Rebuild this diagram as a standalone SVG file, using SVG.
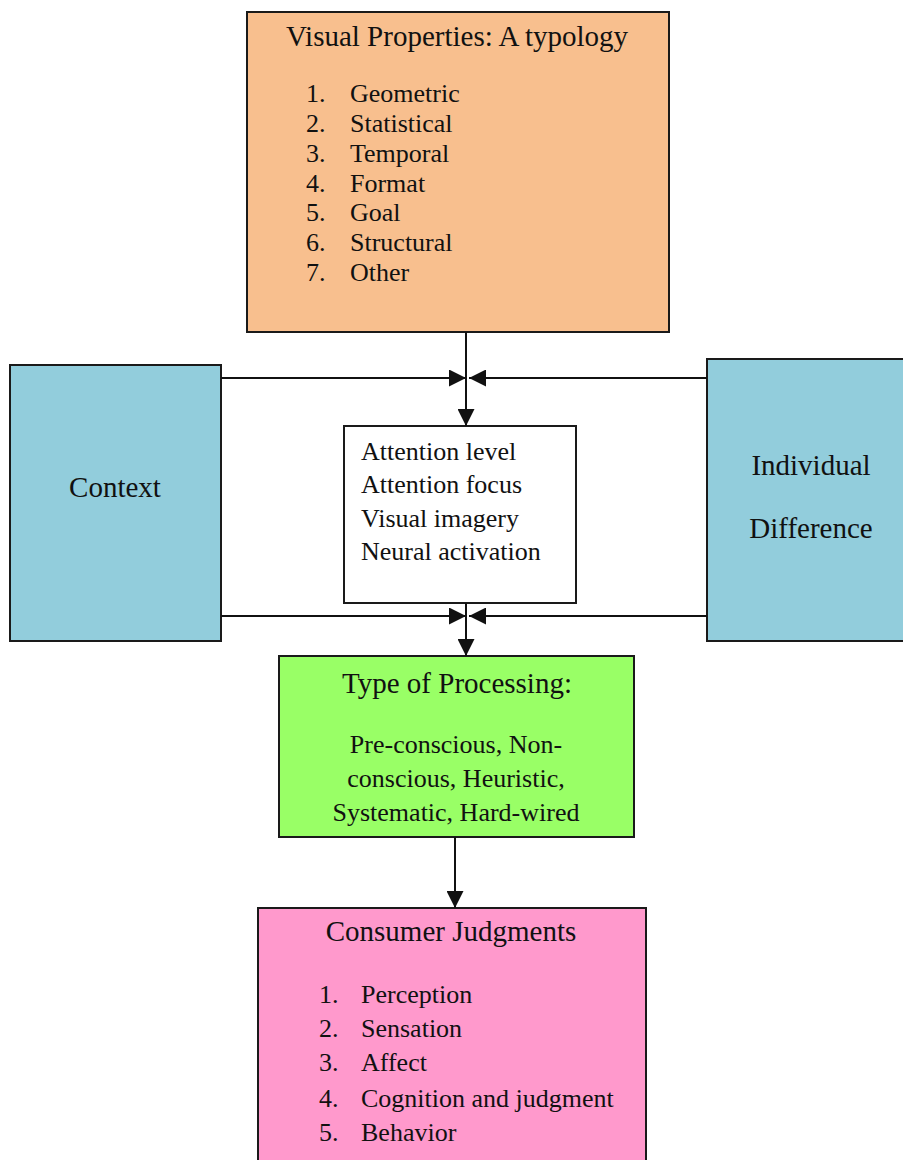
<svg xmlns="http://www.w3.org/2000/svg" width="903" height="1160" viewBox="0 0 903 1160">
  <style>
    .box { stroke: #1a1a1a; stroke-width: 2; }
    .t { font-family: "Liberation Serif", "Times New Roman", "DejaVu Serif", serif; font-size: 26px; fill: #111; }
    .h { font-size: 29px; }
    .c { text-anchor: middle; }
    .line { stroke: #111; stroke-width: 2; fill: none; }
  </style>
  <defs>
    <marker id="head" viewBox="0 0 10 10" refX="10" refY="5" markerWidth="17" markerHeight="17" orient="auto" markerUnits="userSpaceOnUse">
      <path d="M0,0 L10,5 L0,10 Z" fill="#111"/>
    </marker>
  </defs>
  <rect width="903" height="1160" fill="#fff"/>

  <g id="visual-properties">
    <rect class="box" x="247" y="12" width="422" height="320" fill="#F8BF8E"/>
    <text class="t h c" x="457" y="46">Visual Properties: A typology</text>
    <text class="t" x="306" y="102">1.</text><text class="t" x="350" y="102">Geometric</text>
    <text class="t" x="306" y="132">2.</text><text class="t" x="350" y="132">Statistical</text>
    <text class="t" x="306" y="162">3.</text><text class="t" x="350" y="162">Temporal</text>
    <text class="t" x="306" y="192">4.</text><text class="t" x="350" y="192">Format</text>
    <text class="t" x="306" y="221">5.</text><text class="t" x="350" y="221">Goal</text>
    <text class="t" x="306" y="251">6.</text><text class="t" x="350" y="251">Structural</text>
    <text class="t" x="306" y="281">7.</text><text class="t" x="350" y="281">Other</text>
  </g>

  <g id="context">
    <rect class="box" x="10" y="365" width="211" height="276" fill="#92CDDC"/>
    <text class="t h c" x="115" y="497">Context</text>
  </g>

  <g id="individual-difference">
    <rect class="box" x="707" y="359" width="200" height="282" fill="#92CDDC"/>
    <text class="t h c" x="811" y="475">Individual</text>
    <text class="t h c" x="811" y="538">Difference</text>
  </g>

  <g id="attention">
    <rect class="box" x="344" y="426" width="232" height="177" fill="#fff"/>
    <text class="t" x="361" y="460">Attention level</text>
    <text class="t" x="361" y="493">Attention focus</text>
    <text class="t" x="361" y="527">Visual imagery</text>
    <text class="t" x="361" y="560">Neural activation</text>
  </g>

  <g id="processing">
    <rect class="box" x="279" y="656" width="355" height="181" fill="#99FF66"/>
    <text class="t h c" x="457" y="693">Type of Processing:</text>
    <text class="t c" x="456" y="753">Pre-conscious, Non-</text>
    <text class="t c" x="456" y="787">conscious, Heuristic,</text>
    <text class="t c" x="456" y="821">Systematic, Hard-wired</text>
  </g>

  <g id="consumer-judgments">
    <rect class="box" x="258" y="908" width="388" height="260" fill="#FF99CC"/>
    <text class="t h c" x="451" y="941">Consumer Judgments</text>
    <text class="t" x="319" y="1003">1.</text><text class="t" x="361" y="1003">Perception</text>
    <text class="t" x="319" y="1037">2.</text><text class="t" x="361" y="1037">Sensation</text>
    <text class="t" x="319" y="1071">3.</text><text class="t" x="361" y="1071">Affect</text>
    <text class="t" x="319" y="1107">4.</text><text class="t" x="361" y="1107">Cognition and judgment</text>
    <text class="t" x="319" y="1141">5.</text><text class="t" x="361" y="1141">Behavior</text>
  </g>

  <g id="connectors">
    <line class="line" x1="466" y1="332" x2="466" y2="426" marker-end="url(#head)"/>
    <line class="line" x1="221" y1="378" x2="466" y2="378" marker-end="url(#head)"/>
    <line class="line" x1="707" y1="378" x2="469" y2="378" marker-end="url(#head)"/>
    <line class="line" x1="466" y1="603" x2="466" y2="656" marker-end="url(#head)"/>
    <line class="line" x1="221" y1="616" x2="466" y2="616" marker-end="url(#head)"/>
    <line class="line" x1="707" y1="616" x2="469" y2="616" marker-end="url(#head)"/>
    <line class="line" x1="455" y1="837" x2="455" y2="908" marker-end="url(#head)"/>
  </g>
</svg>
